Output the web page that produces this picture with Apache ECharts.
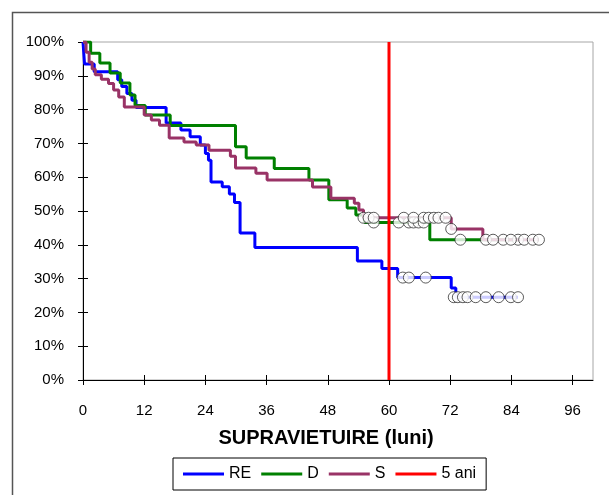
<!DOCTYPE html>
<html>
<head>
<meta charset="utf-8">
<script src="https://cdn.jsdelivr.net/npm/echarts@6/dist/echarts.min.js"></script>
<style>
  html, body { margin: 0; padding: 0; background: #fff; }
  #chartDom { width: 609px; height: 495px; }
</style>
</head>
<body>
<div id="chartDom"></div>
<script>
// luni / supravietuire (%) - curbe Kaplan-Meier
var xTicks = [0, 12, 24, 36, 48, 60, 72, 84, 96];
var legendNames = ['RE', 'D', 'S', '5 ani'];

var reCurve = [[0, 100], [0.3, 93.5], [2.2, 91.2], [6.8, 88.8], [7.6, 86.8], [8.6, 84.8], [9.6, 82.8],
    [10.4, 80.6], [16.3, 76], [19.2, 74], [21, 72], [23, 69.5], [24, 67], [24.6, 65], [25.1, 58.6],
    [27.3, 57.2], [28.7, 55], [29.7, 52.5], [30.8, 43.5], [33.7, 39.2], [53.8, 35.2], [58.6, 33],
    [61.7, 30.3], [72.2, 27.2], [73.1, 24.5], [85.3, 24.5]];
var reCensored = [[62.7, 30.3], [63.9, 30.3], [67.2, 30.3], [72.7, 24.5], [73.5, 24.5], [74.5, 24.5],
    [75.4, 24.5], [77, 24.5], [79, 24.5], [81.5, 24.5], [83.9, 24.5], [85.3, 24.5]];

var dCurve = [[0, 100], [1.5, 96.7], [3.3, 93.8], [5.3, 90.8], [7.3, 87.9], [9.2, 84.3], [10.2, 81.2],
    [12.2, 78.4], [17.1, 75.3], [29.9, 69], [32, 65.7], [37.5, 62.6], [44.3, 59.2], [48.2, 53.3],
    [51.8, 50.9], [53.5, 48.8], [55.2, 46.6], [68, 41.5], [85.3, 41.5]];
var dCensored = [[57, 46.6], [61.9, 46.6], [63.9, 46.6], [64.8, 46.6], [65.8, 46.6], [66.8, 46.6],
    [74, 41.5], [79, 41.5], [82.4, 41.5], [85.3, 41.5]];

var sCurve = [[0, 100], [0.6, 97], [1.2, 94], [1.8, 92], [2.4, 90.3], [3.6, 89], [5, 87.7], [6, 85.8],
    [7, 83.7], [8.1, 80.8], [12, 78.4], [13.4, 76.9], [15, 75.4], [16.9, 71.6], [19.8, 70.4],
    [22.2, 69.5], [24.7, 68], [28.9, 66.2], [29.9, 62.7], [33.9, 61.2], [36.1, 59.2], [45, 57.1],
    [48.6, 53.8], [53.2, 52.3], [54.1, 50.3], [55, 48], [72.2, 44.7], [78.4, 41.5], [89.4, 41.5]];
var sCensored = [[55, 48], [56, 48], [57, 48], [62.9, 48], [64.8, 48], [66.8, 48], [67.8, 48],
    [68.8, 48], [69.7, 48], [71.1, 48], [72.2, 44.7], [80.4, 41.5], [83.9, 41.5], [86.5, 41.5],
    [88.2, 41.5], [89.4, 41.5]];

var fiveYears = [[60, 0], [60, 100]];

var colors = {RE: '#0000ff', D: '#008000', S: '#993366', ani: '#ff0000'};
var font = 'Arial, "Liberation Sans", sans-serif';

function stepLine(name, data, color) {
    return {
        name: name, type: 'line', step: 'end', data: data,
        showSymbol: false, symbol: 'none', z: 2,
        lineStyle: {color: color, width: 3},
        itemStyle: {color: color}
    };
}

function censored(name, data) {
    return {
        name: name, type: 'scatter', data: data, z: 4,
        symbol: 'circle', symbolSize: 11,
        itemStyle: {color: '#ffffff', borderColor: '#333333', borderWidth: 1}
    };
}

var chartDom = echarts.init(document.getElementById('chartDom'));
chartDom.setOption({
    animation: false,
    backgroundColor: '#ffffff',
    graphic: [{
        type: 'rect', left: 10, top: 10, z: -10, silent: true,
        shape: {width: 700, height: 600},
        style: {fill: 'none', stroke: '#555555', lineWidth: 1.5}
    }],
    grid: {
        left: 83, right: 16, top: 42, bottom: 115,
        show: true, borderColor: '#a6a6a6', borderWidth: 1,
        outerBoundsMode: 'none'
    },
    legend: {
        data: legendNames,
        left: 173, top: 458,
        padding: [8, 10],
        itemGap: 10,
        itemWidth: 41, itemHeight: 3,
        icon: 'rect',
        borderColor: '#000000', borderWidth: 1, borderRadius: 0,
        textStyle: {fontFamily: font, fontSize: 16, color: '#000000'}
    },
    xAxis: [{
        type: 'value', min: 0, max: 100, interval: 12,
        name: 'SUPRAVIETUIRE (luni)', nameLocation: 'middle', nameGap: 48,
        nameTextStyle: {fontFamily: font, fontSize: 20, fontWeight: 'bold', color: '#000000',
            padding: [0, 24, 0, 0]},
        axisLine: {show: true, lineStyle: {color: '#000000', width: 1}},
        axisTick: {show: true, length: 5, customValues: xTicks, lineStyle: {color: '#000000'}},
        axisLabel: {customValues: xTicks, margin: 23, fontFamily: font, fontSize: 15, color: '#000000'},
        splitLine: {show: false}
    }, {
        type: 'value', min: 0, max: 100, interval: 12, position: 'bottom',
        axisLine: {show: false},
        axisTick: {show: true, inside: true, length: 5, customValues: xTicks, lineStyle: {color: '#000000'}},
        axisLabel: {show: false},
        splitLine: {show: false}
    }],
    yAxis: [{
        type: 'value', min: 0, max: 100, interval: 10,
        axisLine: {show: true, lineStyle: {color: '#000000', width: 1}},
        axisTick: {show: true, length: 5, lineStyle: {color: '#000000'}},
        axisLabel: {formatter: '{value}%', margin: 19, fontFamily: font, fontSize: 15, color: '#000000'},
        splitLine: {show: false}
    }, {
        type: 'value', min: 0, max: 100, interval: 10, position: 'left',
        axisLine: {show: false},
        axisTick: {show: true, inside: true, length: 5, lineStyle: {color: '#000000'}},
        axisLabel: {show: false},
        splitLine: {show: false}
    }],
    series: [
        stepLine('RE', reCurve, colors.RE),
        stepLine('D', dCurve, colors.D),
        stepLine('S', sCurve, colors.S),
        {
            name: '5 ani', type: 'line', data: fiveYears, showSymbol: false, symbol: 'none', z: 3,
            lineStyle: {color: colors.ani, width: 3}, itemStyle: {color: colors.ani}
        },
        censored('RE cenzurat', reCensored),
        censored('D cenzurat', dCensored),
        censored('S cenzurat', sCensored)
    ]
});
</script>
</body>
</html>
